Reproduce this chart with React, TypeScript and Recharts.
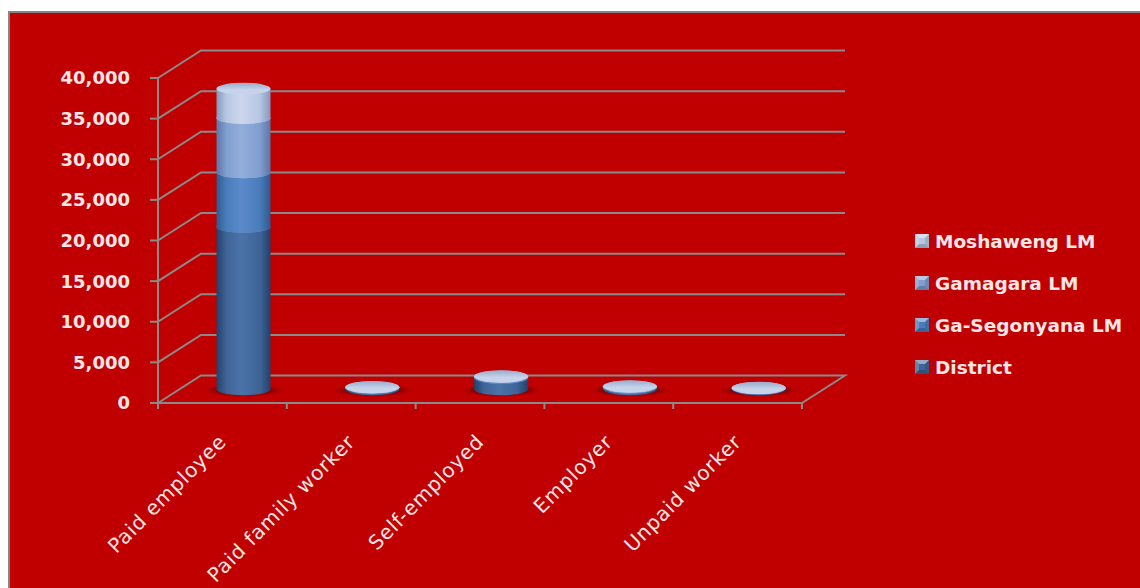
import React from 'react';
import { BarChart, Bar, XAxis, YAxis, CartesianGrid, Legend } from 'recharts';

// ---------- data ----------
const categories = ['Paid employee', 'Paid family worker', 'Self-employed', 'Employer', 'Unpaid worker'];
const district = [20000, 150, 1400, 200, 100];
const gaSegonyana = [6700, 60, 100, 80, 40];
const gamagara = [6700, 40, 60, 50, 20];
const moshaweng = [3600, 30, 40, 40, 20];
const yTicks = [0, 5000, 10000, 15000, 20000, 25000, 30000, 35000, 40000];
const seriesNames = ['District', 'Ga-Segonyana LM', 'Gamagara LM', 'Moshaweng LM'];
const seriesKeys = ['district', 'gaSegonyana', 'gamagara', 'moshaweng'];

const data = categories.map((c, i) => ({
  category: c,
  district: district[i],
  gaSegonyana: gaSegonyana[i],
  gamagara: gamagara[i],
  moshaweng: moshaweng[i],
}));

// ---------- style ----------
const palette: Record<string, { dark: string; mid: string; hi: string; capA: string; capB: string }> = {
  district: { dark: '#24406A', mid: '#3E6497', hi: '#4B73A8', capA: '#5F82B5', capB: '#7A9AC8' },
  gaSegonyana: { dark: '#2F5A8F', mid: '#4A7CBB', hi: '#5A8ACA', capA: '#6E96CC', capB: '#8EAEDC' },
  gamagara: { dark: '#5C77A6', mid: '#809ECF', hi: '#93AEDA', capA: '#9DB3D8', capB: '#B9CBE8' },
  moshaweng: { dark: '#8498BC', mid: '#B7C6E2', hi: '#CBD7EE', capA: '#98ABCB', capB: '#C6D3EA' },
};
const BG = '#C00000';
const GRID = '#8A8A8A';
const TEXT = '#FAE6E6';
const FONT = '"DejaVu Sans", Verdana, sans-serif';

const W = 1130;
const H = 575;
const MARGIN = { top: 65, right: 338, bottom: 35, left: 68 };
const YAXIS_W = 80;
const XAXIS_H = 150;
const PLOT_BOTTOM = H - MARGIN.bottom - XAXIS_H;
const PLOT_W = W - MARGIN.left - MARGIN.right - YAXIS_W;
const DX = 43;
const DY = -27.5;
const RY = 6;

const makeShape = (si: number) => (props: any) => {
  const { x, y, width, height } = props;
  if (x == null || y == null || width == null || height == null) return <g />;
  const key = seriesKeys[si];
  const left = x + DX / 2;
  const right = left + width;
  const cx = left + width / 2;
  const top = y + DY / 2;
  const bottom = y + height + DY / 2;
  const rx = width / 2;
  return (
    <g>
      {si === 0 && (
        <ellipse cx={cx} cy={bottom + 1} rx={rx + 17} ry={RY + 1} fill="url(#shadowGrad)" />
      )}
      <path
        d={`M${left},${top} L${right},${top} L${right},${bottom} A${rx},${RY} 0 0 1 ${left},${bottom} Z`}
        fill={`url(#body-${key})`}
      />
      <ellipse cx={cx} cy={top} rx={rx} ry={RY} fill={`url(#cap-${key})`} />
    </g>
  );
};

const gridLine = (props: any) => {
  const { x1, y1, x2, key } = props;
  const isFloor = Math.abs(y1 - PLOT_BOTTOM) < 0.5;
  let d = `M${x1},${y1} L${x1 + DX},${y1 + DY} L${x2 + DX},${y1 + DY}`;
  if (isFloor) d += ` L${x2},${y1}`;
  return <path key={key} d={d} fill="none" stroke={GRID} strokeWidth={2} />;
};

const XTick = (props: any) => {
  const { x, y, payload, index } = props;
  const band = PLOT_W / categories.length;
  return (
    <g>
      <line x1={x - band / 2} y1={y} x2={x - band / 2} y2={y + 6} stroke={GRID} strokeWidth={2} />
      {index === categories.length - 1 && (
        <line x1={x + band / 2} y1={y} x2={x + band / 2} y2={y + 6} stroke={GRID} strokeWidth={2} />
      )}
      <text
        transform={`translate(${x + 5},${y + 40}) rotate(-45)`}
        textAnchor="end"
        fill={TEXT}
        fontFamily={FONT}
        fontSize={20}
        letterSpacing={0.8}
      >
        {payload.value}
      </text>
    </g>
  );
};

const Marker = ({ color }: { color: string }) => (
  <svg width={14} height={14} style={{ display: 'block' }}>
    <rect x={0} y={0} width={14} height={14} fill={color} />
    <polygon points="0,0 14,0 10,4 4,4" fill="#ffffff" opacity={0.45} />
    <polygon points="0,0 4,4 4,10 0,14" fill="#ffffff" opacity={0.2} />
    <polygon points="0,14 4,10 10,10 14,14" fill="#000000" opacity={0.2} />
    <polygon points="14,0 14,14 10,10 10,4" fill="#000000" opacity={0.12} />
  </svg>
);

const LegendContent = (props: any) => {
  const payload = props.payload || [];
  const items = [...seriesNames].reverse().map((n) => payload.find((p: any) => p.value === n)).filter(Boolean);
  return (
    <div>
      {items.map((it: any) => (
        <div key={it.value} style={{ height: 42, display: 'flex', alignItems: 'center' }}>
          <Marker color={it.color} />
          <span
            style={{
              marginLeft: 6,
              color: TEXT,
              fontFamily: FONT,
              fontWeight: 'bold',
              fontSize: 18.5,
              whiteSpace: 'nowrap',
            }}
          >
            {it.value}
          </span>
        </div>
      ))}
    </div>
  );
};

export default function App() {
  return (
    <div
      style={{
        position: 'absolute',
        left: 8,
        top: 11,
        width: W + 2,
        height: H + 2,
        boxSizing: 'border-box',
        background: BG,
        borderLeft: '2px solid #858585',
        borderTop: '2px solid #858585',
      }}
    >
      <BarChart width={W} height={H} data={data} margin={MARGIN} barSize={54}>
        <defs>
          {seriesKeys.map((k) => (
            <linearGradient key={`b-${k}`} id={`body-${k}`} x1="0" y1="0" x2="1" y2="0">
              <stop offset="0%" stopColor={palette[k].dark} />
              <stop offset="18%" stopColor={palette[k].mid} />
              <stop offset="45%" stopColor={palette[k].hi} />
              <stop offset="80%" stopColor={palette[k].mid} />
              <stop offset="100%" stopColor={palette[k].dark} />
            </linearGradient>
          ))}
          {seriesKeys.map((k) => (
            <linearGradient key={`c-${k}`} id={`cap-${k}`} x1="0" y1="0" x2="0" y2="1">
              <stop offset="0%" stopColor={palette[k].capA} />
              <stop offset="60%" stopColor={palette[k].capB} />
              <stop offset="100%" stopColor={palette[k].capB} />
            </linearGradient>
          ))}
          <radialGradient id="shadowGrad" cx="0.5" cy="0.5" r="0.5">
            <stop offset="0%" stopColor="#5A0000" stopOpacity={0.9} />
            <stop offset="65%" stopColor="#7A0000" stopOpacity={0.7} />
            <stop offset="100%" stopColor="#C00000" stopOpacity={0} />
          </radialGradient>
        </defs>
        <CartesianGrid vertical={false} horizontal={gridLine} />
        <XAxis
          dataKey="category"
          interval={0}
          height={XAXIS_H}
          tickLine={false}
          tickSize={0}
          tickMargin={0}
          axisLine={{ stroke: GRID, strokeWidth: 2 }}
          tick={<XTick />}
        />
        <YAxis
          width={YAXIS_W}
          domain={[0, 40000]}
          ticks={yTicks}
          interval={0}
          tickSize={8}
          tickMargin={20}
          axisLine={{ stroke: GRID, strokeWidth: 2 }}
          tickLine={{ stroke: GRID, strokeWidth: 2 }}
          tick={{ fill: TEXT, fontFamily: FONT, fontWeight: 'bold', fontSize: 18 }}
          tickFormatter={(v: number) => v.toLocaleString('en-US')}
        />
        <Legend
          layout="vertical"
          align="center"
          verticalAlign="middle"
          content={<LegendContent />}
          wrapperStyle={{ left: 905, top: 207, width: 225, height: 170 }}
        />
        {seriesKeys.map((k, i) => (
          <Bar
            key={k}
            dataKey={k}
            name={seriesNames[i]}
            stackId="s"
            fill={palette[k].mid}
            shape={makeShape(i)}
            isAnimationActive={false}
          />
        ))}
      </BarChart>
    </div>
  );
}
